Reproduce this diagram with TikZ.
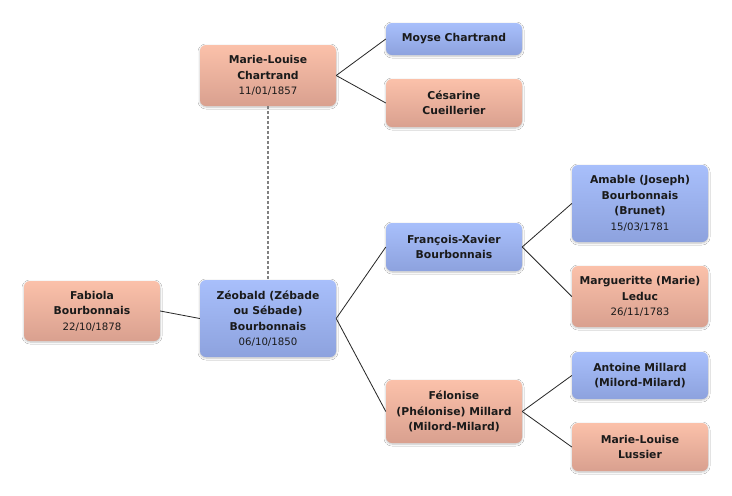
\documentclass[tikz,border=0pt]{standalone}
\usepackage{fontspec}
\setmainfont{DejaVu Sans}
\usetikzlibrary{shadows.blur}
\definecolor{btop}{HTML}{A8BFFB}
\definecolor{bbot}{HTML}{8DA2DE}
\definecolor{ptop}{HTML}{FBC1AA}
\definecolor{pbot}{HTML}{D9A08F}
\definecolor{txt}{HTML}{1A1A1A}
\tikzset{
  person/.style={rounded corners=6pt, minimum width=136pt, align=center, inner sep=0pt,
    text=txt, font=\fontsize{10.8}{15.5}\selectfont\bfseries,
    blur shadow={shadow xshift=0pt, shadow yshift=-1pt, shadow blur radius=2pt, shadow blur steps=6, shadow opacity=25}},
  male/.style={person, top color=btop, bottom color=bbot},
  female/.style={person, top color=ptop, bottom color=pbot},
  link/.style={draw=black!85, line width=0.8pt},
  spouse/.style={draw=gray, line width=1.3pt, dash pattern=on 3pt off 2pt}
}
\newcommand\dt[1]{{\mdseries\fontsize{10.2}{14}\selectfont #1}}
\begin{document}
\begin{tikzpicture}[x=1pt,y=-1pt]
\useasboundingbox[fill=white] (0,0) rectangle (732,496);
\node[female, minimum height=60pt] (fab) at (92,311) {Fabiola\\Bourbonnais\\\dt{22/10/1878}};
\node[male, minimum height=77pt] (zeo) at (268,318.5) {Zéobald (Zébade\\ou Sébade)\\Bourbonnais\\\dt{06/10/1850}};
\node[female, minimum height=61pt] (mlc) at (268,75.5) {Marie-Louise\\Chartrand\\\dt{11/01/1857}};
\node[male, minimum height=32pt] (moy) at (454,39) {Moyse Chartrand};
\node[female, minimum height=48pt] (ces) at (454,103) {Césarine\\Cueillerier};
\node[male, minimum height=48pt] (fx) at (454,247) {François-Xavier\\Bourbonnais};
\node[male, minimum height=77pt] (ama) at (640,203.5) {Amable (Joseph)\\Bourbonnais\\(Brunet)\\\dt{15/03/1781}};
\node[female, minimum height=61pt] (mar) at (640,296.5) {Margueritte (Marie)\\Leduc\\\dt{26/11/1783}};
\node[female, minimum height=63pt] (fel) at (454,411.5) {Félonise\\(Phélonise) Millard\\(Milord-Milard)};
\node[male, minimum height=47pt] (ant) at (640,375.5) {Antoine Millard\\(Milord-Milard)};
\node[female, minimum height=48pt] (mll) at (640,447) {Marie-Louise\\Lussier};
\draw[link] (fab.east) -- (zeo.west);
\draw[link] (zeo.east) -- (fx.west);
\draw[link] (zeo.east) -- (fel.west);
\draw[link] (fx.east) -- (ama.west);
\draw[link] (fx.east) -- (mar.west);
\draw[link] (fel.east) -- (ant.west);
\draw[link] (fel.east) -- (mll.west);
\draw[link] (mlc.east) -- (moy.west);
\draw[link] (mlc.east) -- (ces.west);
\draw[spouse] (mlc.south) -- (zeo.north);
\end{tikzpicture}
\end{document}
